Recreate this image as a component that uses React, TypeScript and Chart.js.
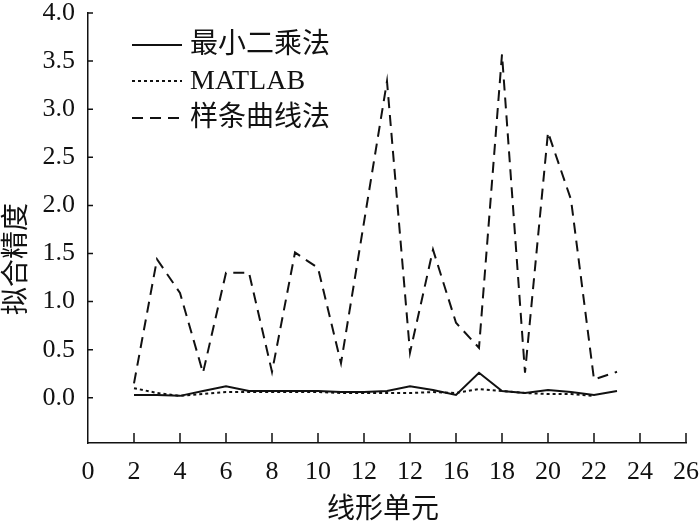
import React, { useEffect, useRef } from "react";
import { Chart, registerables } from "chart.js";

Chart.register(...registerables);

const xValues = [2, 3, 4, 5, 6, 7, 8, 9, 10, 11, 12, 13, 14, 15, 16, 17, 18, 19, 20, 21, 22, 23];
const leastSquares = [0.03, 0.03, 0.02, 0.07, 0.12, 0.07, 0.07, 0.07, 0.07, 0.06, 0.06, 0.07, 0.12, 0.08, 0.03, 0.26, 0.07, 0.05, 0.08, 0.06, 0.03, 0.07];
const matlab = [0.1, 0.05, 0.02, 0.04, 0.06, 0.06, 0.06, 0.06, 0.06, 0.05, 0.05, 0.05, 0.05, 0.06, 0.05, 0.09, 0.07, 0.05, 0.04, 0.04, 0.02, null];
const spline = [0.15, 1.44, 1.09, 0.26, 1.3, 1.3, 0.27, 1.51, 1.35, 0.36, null, 3.29, 0.47, 1.54, 0.78, 0.52, 3.57, 0.26, 2.76, 2.06, 0.19, 0.27];

const xTickValues = [0, 2, 4, 6, 8, 10, 12, 14, 16, 18, 20, 22, 24, 26];
const xTickLabels = ["0", "2", "4", "6", "8", "10", "12", "12", "16", "18", "20", "22", "24", "26"];
const yTickValues = [0, 0.5, 1, 1.5, 2, 2.5, 3, 3.5, 4];

const seriesNames = ["最小二乘法", "MATLAB", "样条曲线法"];
const xTitle = "线形单元";
const yTitle = "拟合精度";

const FONT = '"Liberation Serif", "Noto Sans CJK SC", serif';
const INK = "#111111";

const toPoints = (arr: (number | null)[]) => xValues.map((x, i) => ({ x, y: arr[i] }));

const decorPlugin = {
  id: "decor",
  afterDraw(chart: any) {
    const ctx = chart.ctx as CanvasRenderingContext2D;
    const xs = chart.scales.x;
    const ys = chart.scales.y;
    const area = chart.chartArea;
    ctx.save();
    // inward tick marks
    ctx.strokeStyle = INK;
    ctx.lineWidth = 1.5;
    ctx.setLineDash([]);
    ctx.beginPath();
    xTickValues.forEach((v) => {
      if (v === 0) return;
      const px = xs.getPixelForValue(v);
      ctx.moveTo(px, area.bottom);
      ctx.lineTo(px, area.bottom - 10);
    });
    yTickValues.forEach((v) => {
      const py = ys.getPixelForValue(v);
      ctx.moveTo(area.left, py);
      ctx.lineTo(area.left + 5, py);
    });
    ctx.stroke();

    // legend
    const rows = [45, 81, 118];
    chart.data.datasets.forEach((ds: any, i: number) => {
      const y = rows[i];
      ctx.strokeStyle = ds.borderColor;
      ctx.lineWidth = ds.borderWidth;
      ctx.setLineDash(ds.borderDash || []);
      ctx.beginPath();
      ctx.moveTo(132, y);
      ctx.lineTo(182, y);
      ctx.stroke();
      ctx.setLineDash([]);
      ctx.fillStyle = INK;
      ctx.font = `28px ${FONT}`;
      ctx.textAlign = "left";
      ctx.textBaseline = "middle";
      ctx.fillText(ds.label, 190, y + 1);
    });

    // axis titles
    ctx.fillStyle = INK;
    ctx.font = `28px ${FONT}`;
    ctx.textAlign = "center";
    ctx.textBaseline = "middle";
    ctx.fillText(xTitle, (area.left + area.right) / 2 - 4, 511);
    ctx.translate(18, 259);
    ctx.rotate(-Math.PI / 2);
    ctx.fillText(yTitle, 0, 0);
    ctx.restore();
  },
};

export default function App() {
  const ref = useRef<HTMLCanvasElement>(null);
  useEffect(() => {
    document.body.style.margin = "0";
    const canvas = ref.current;
    if (!canvas) return;
    const chart = new Chart(canvas, {
      type: "line",
      data: {
        datasets: [
          {
            label: seriesNames[0],
            data: toPoints(leastSquares),
            borderColor: INK,
            borderWidth: 2,
            pointRadius: 0,
            tension: 0,
            spanGaps: true,
          },
          {
            label: seriesNames[1],
            data: toPoints(matlab),
            borderColor: INK,
            borderWidth: 2,
            borderDash: [3, 3],
            pointRadius: 0,
            tension: 0,
            spanGaps: true,
          },
          {
            label: seriesNames[2],
            data: toPoints(spline),
            borderColor: INK,
            borderWidth: 2,
            borderDash: [11, 7],
            pointRadius: 0,
            tension: 0,
            spanGaps: true,
          },
        ] as any,
      },
      options: {
        animation: false,
        responsive: false,
        maintainAspectRatio: false,
        layout: { padding: { top: 13, right: 14, left: 0, bottom: 0 } },
        plugins: { legend: { display: false }, tooltip: { enabled: false } },
        scales: {
          x: {
            type: "linear",
            min: 0,
            max: 26,
            grid: { display: false, drawTicks: false },
            border: { display: true, color: INK, width: 1.5 },
            afterBuildTicks: (s: any) => {
              s.ticks = xTickValues.map((v) => ({ value: v }));
            },
            afterFit: (s: any) => {
              s.height = 84;
              s.paddingLeft = 0;
              s.paddingRight = 0;
            },
            ticks: {
              autoSkip: false,
              maxRotation: 0,
              padding: 14,
              color: INK,
              font: { family: FONT, size: 26 },
              callback: (v: any) => {
                const i = xTickValues.indexOf(Number(v));
                return i >= 0 ? xTickLabels[i] : "";
              },
            },
          },
          y: {
            type: "linear",
            min: -0.47,
            max: 4,
            grid: { display: false, drawTicks: false },
            border: { display: true, color: INK, width: 1.5 },
            afterBuildTicks: (s: any) => {
              s.ticks = yTickValues.map((v) => ({ value: v }));
            },
            afterFit: (s: any) => {
              s.width = 88;
              s.paddingTop = 0;
              s.paddingBottom = 0;
            },
            ticks: {
              autoSkip: false,
              padding: 13,
              color: INK,
              font: { family: FONT, size: 26 },
              callback: (v: any) => Number(v).toFixed(1),
            },
          },
        },
      },
      plugins: [decorPlugin],
    });
    return () => chart.destroy();
  }, []);
  return (
    <div style={{ width: 700, height: 527 }}>
      <canvas ref={ref} width={700} height={527} style={{ display: "block" }} />
    </div>
  );
}
